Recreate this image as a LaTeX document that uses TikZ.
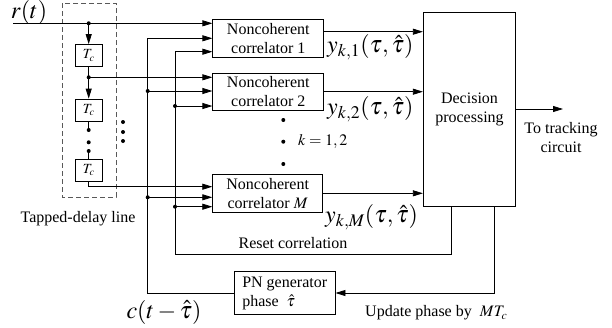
\documentclass[tikz,border=0pt]{standalone}
\usepackage{mathptmx}
\usepackage{fontspec}
\setmainfont{Liberation Serif}
\usetikzlibrary{arrows.meta}
\tikzset{
  blk/.style={draw, line width=0.8pt, inner sep=0pt, align=center, font=\fontsize{16}{19}\selectfont},
  tapbox/.style={draw, line width=0.8pt, inner sep=0pt, minimum width=27pt, minimum height=22pt, font=\fontsize{14}{16}\selectfont},
  arr/.style={-{Triangle[length=10pt,width=6pt]}},
  ln/.style={line width=0.8pt},
  jdot/.style={fill, circle, inner sep=0pt, minimum size=4pt},
  lbl/.style={font=\fontsize{16}{19}\selectfont, inner sep=0pt, align=center},
  biglbl/.style={font=\fontsize{24}{28}\selectfont, inner sep=0pt}
}
\begin{document}
\begin{tikzpicture}[x=1pt,y=-1pt]
\useasboundingbox (0,0) rectangle (612,327);

% dashed tapped-delay enclosure
\draw[dashed, line width=0.7pt, dash pattern=on 5pt off 3pt, gray!70!black] (62,3) rectangle (116,197);

% blocks
\node[blk, minimum width=111pt, minimum height=38pt] (c1) at (268.3,38.3) {Noncoherent\\correlator 1};
\node[blk, minimum width=111pt, minimum height=37.5pt] (c2) at (268.3,92) {Noncoherent\\correlator 2};
\node[blk, minimum width=110pt, minimum height=38pt] (cM) at (267.7,193.3) {Noncoherent\\correlator $M$};
\node[blk, minimum width=92.4pt, minimum height=194pt] (dec) at (469.5,109.7) {Decision\\processing};
\node[blk, minimum width=100.7pt, minimum height=43pt, align=left] (pn) at (284.7,293) {PN generator\\phase \ $\hat{\tau}$};

\node[tapbox] (t1) at (88.7,55.5) {$T_c$};
\node[tapbox] (t2) at (88.7,110) {$T_c$};
\node[tapbox] (t3) at (88.7,170) {$T_c$};

% coordinates
\coordinate (rin) at (13,23.3);
\coordinate (j0) at (88.7,23.3);
\coordinate (j1) at (88.7,77.3);
\coordinate (d1) at (88.7,130);
\coordinate (d2) at (88.7,142.3);
\coordinate (d3) at (88.7,151);
\coordinate (t3o) at (88.7,186.7);
\coordinate (aTop) at (147.7,38.3);
\coordinate (a2) at (147.7,91);
\coordinate (aM) at (147.7,197.3);
\coordinate (aBot) at (147.7,293);
\coordinate (bTop) at (175,51.7);
\coordinate (b2) at (175,106);
\coordinate (bM) at (175,206.7);
\coordinate (bBot) at (175,254.3);
\coordinate (rs) at (451,206.7);
\coordinate (rsb) at (451,254.3);
\coordinate (up) at (494.3,206.7);
\coordinate (upb) at (494.3,293);
\coordinate (out) at (563,109);

% r(t) and tapped delay line
\draw[ln, arr] (rin) -- (rin -| c1.west);
\draw[ln, arr] (j0) -- (t1.north);
\draw[ln] (t1.south) -- (j1);
\draw[ln, arr] (j1) -- (t2.north);
\draw[ln, arr] (j1) -- (j1 -| c2.west);
\draw[ln] (t2.south) -- (d1);
\draw[ln] (d3) -- (t3.north);
\draw[ln, arr] (t3.south) |- (t3o) -- (t3o -| cM.west);
\foreach \p in {j0,j1,d1,d2,d3} \node[jdot] at (\p) {};

% line A (PN code)
\draw[ln, arr] (pn.west |- aBot) -- (aBot) -- (aTop) -- (aTop -| c1.west);
\draw[ln, arr] (a2) -- (a2 -| c2.west);
\draw[ln, arr] (aM) -- (aM -| cM.west);
\node[jdot] at (a2) {};
\node[jdot] at (aM) {};

% line B (reset)
\draw[ln, arr] (rs) -- (rsb) -- (bBot) -- (bTop) -- (bTop -| c1.west);
\draw[ln, arr] (b2) -- (b2 -| c2.west);
\draw[ln, arr] (bM) -- (bM -| cM.west);
\node[jdot] at (b2) {};
\node[jdot] at (bM) {};

% update phase
\draw[ln, arr] (up) -- (upb) -- (upb -| pn.east);

% correlator outputs
\coordinate (o1) at (324,31.7);
\coordinate (o2) at (324,91.7);
\coordinate (oM) at (322.7,193.3);
\draw[ln, arr] (o1) -- (o1 -| dec.west);
\draw[ln, arr] (o2) -- (o2 -| dec.west);
\draw[ln, arr] (oM) -- (oM -| dec.west);

% decision output
\draw[ln, arr] (dec.east |- out) -- (out);

% dots
\foreach \y in {122,132,141} \node[jdot] at (123,\y) {};
\foreach \y in {120,141.7,164} \node[jdot] at (283.3,\y) {};

% labels
\node[biglbl] (lr) at (29,12) {$r(t)$};
\node[biglbl, anchor=west] (ly1) at (327,47.5) {$y_{k,1}(\tau,\hat{\tau})$};
\node[biglbl, anchor=west] (ly2) at (327,109) {$y_{k,2}(\tau,\hat{\tau})$};
\node[biglbl, anchor=west] (lyM) at (325,217) {$y_{k,M}(\tau,\hat{\tau})$};
\node[lbl, anchor=west] (lk) at (298,141.5) {$k=1,2$};
\node[lbl] (ltd) at (78,219) {Tapped-delay line};
\node[lbl] (lrc) at (293,243) {Reset correlation};
\node[biglbl] (lc) at (164,312) {$c(t-\hat{\tau})$};
\node[lbl, anchor=west] (lup) at (365,313) {Update phase by \ $MT_c$};
\node[lbl] (ltc) at (561,137.5) {To tracking\\circuit};
\end{tikzpicture}
\end{document}
